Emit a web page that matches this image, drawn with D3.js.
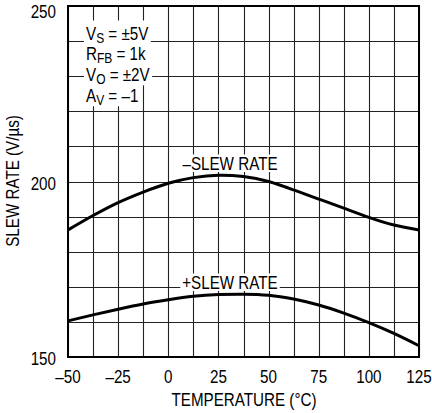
<!DOCTYPE html>
<html><head><meta charset="utf-8">
<script src="https://cdn.jsdelivr.net/npm/d3@7"></script>
<style>
html,body{margin:0;padding:0;background:#fff;}
text{font-family:"Liberation Sans",Arial,sans-serif;fill:#000;}
</style></head>
<body>
<svg id="c" width="432" height="413"></svg>
<script>
const temps = [-50,-37.5,-25,-12.5,0,12.5,25,37.5,50,62.5,75,87.5,100,112.5,125];
const negSlew = [186.2,190.3,194.0,197.0,199.5,201.1,201.8,201.4,200.0,197.6,195.0,192.4,189.8,187.6,186.2];
const posSlew = [160.3,162.0,163.6,165.1,166.3,167.3,167.8,167.9,167.6,166.5,164.8,162.5,159.8,156.7,153.2];
const xTicks = [-50,-25,0,25,50,75,100,125];
const xTickLabels = ["–50","–25","0","25","50","75","100","125"];
const yTicks = [150,200,250];
const xGrid = d3.range(-50,125.01,12.5);
const yGrid = d3.range(150,250.01,10);
const seriesLabels = ["–SLEW RATE","+SLEW RATE"];

const FS = "19px", SX = 0.8;
const svg = d3.select("#c");
const x = d3.scaleLinear().domain([-50,125]).range([68,419]);
const y = d3.scaleLinear().domain([150,250]).range([357,6]);

const g = svg.append("g");
g.selectAll("line.v").data(xGrid).enter().append("line")
  .attr("x1",d=>Math.round(x(d))+0.5).attr("x2",d=>Math.round(x(d))+0.5)
  .attr("y1",y(250)).attr("y2",y(150)).attr("stroke","#222").attr("stroke-width",1.1);
g.selectAll("line.h").data(yGrid).enter().append("line")
  .attr("y1",d=>Math.round(y(d))+0.5).attr("y2",d=>Math.round(y(d))+0.5)
  .attr("x1",x(-50)).attr("x2",x(125)).attr("stroke","#222").attr("stroke-width",1.1);

const line = d3.line().x((d,i)=>x(temps[i])).y(d=>y(d)).curve(d3.curveNatural);
[negSlew,posSlew].forEach(s=>{
  svg.append("path").attr("d",line(s)).attr("fill","none").attr("stroke","#000").attr("stroke-width",3);
});

svg.append("rect").attr("x",x(-50)).attr("y",y(250)).attr("width",x(125)-x(-50)).attr("height",y(150)-y(250))
  .attr("fill","none").attr("stroke","#000").attr("stroke-width",2);

function txt(parent, tx, ty, anchor, extra){
  return parent.append("text").attr("transform",`translate(${tx},${ty})${extra||""} scale(${SX},1)`)
    .attr("text-anchor",anchor).style("font-size",FS);
}
function bgText(tx, ty, anchor, build, padTop, padBot){
  const gg = svg.append("g").attr("transform",`translate(${tx},${ty}) scale(${SX},1)`);
  const r = gg.append("rect").attr("fill","#fff");
  const t = gg.append("text").attr("text-anchor",anchor).style("font-size",FS);
  build(t);
  const b = t.node().getBBox();
  r.attr("x",b.x-2.5).attr("y",-14-padTop).attr("width",b.width+5).attr("height",14+padTop+padBot);
}
bgText(230, 170, "middle", t=>t.text(seriesLabels[0]), 1.5, 2);
bgText(230, 289, "middle", t=>t.text(seriesLabels[1]), 1.5, 2);

const cond = [["V","S"," = ±5V"],["R","FB"," = 1k"],["V","O"," = ±2V"],["A","V"," = –1"]];
cond.forEach((c,i)=>{
  bgText(86, 39.5+i*20.9, "start", t=>{
    t.append("tspan").text(c[0]);
    t.append("tspan").attr("dy",3).style("font-size","15px").text(c[1]);
    t.append("tspan").attr("dy",-3).text(c[2]);
  }, i===0?5:3.5, 4);
});

yTicks.forEach(d=>txt(svg,56,Math.max(y(d)+8,17.5),"end").text(d));
xTicks.forEach((d,i)=>txt(svg,x(d),383,"middle").text(xTickLabels[i]));
txt(svg,244,406,"middle").text("TEMPERATURE (°C)");
txt(svg,19,181,"middle"," rotate(-90)").text("SLEW RATE (V/µs)");
</script>
</body></html>
